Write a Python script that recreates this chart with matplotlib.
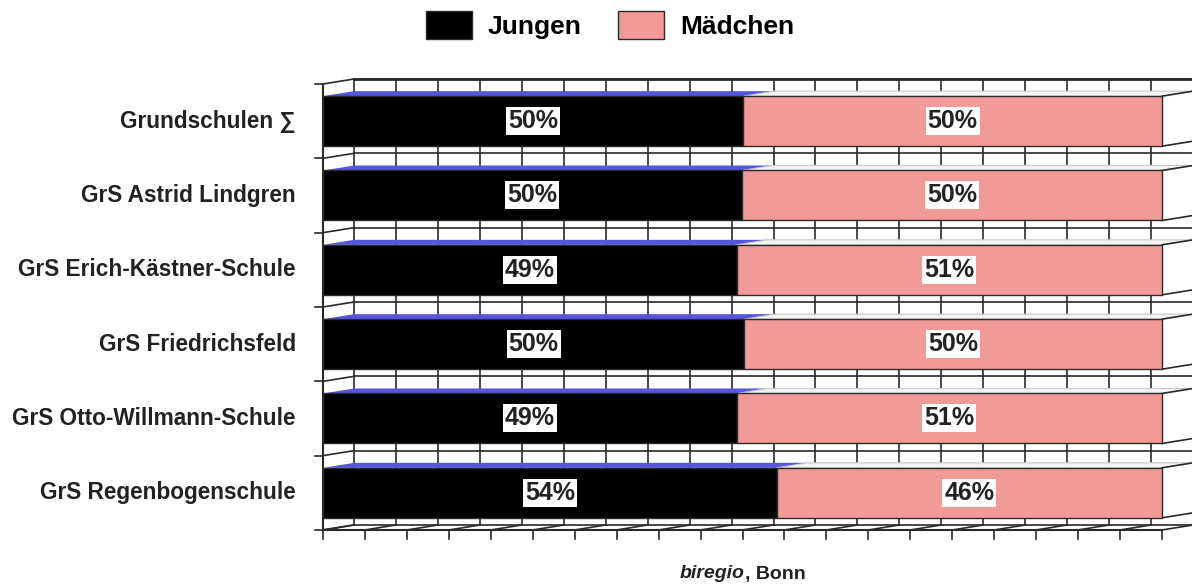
import numpy as np
import matplotlib.pyplot as plt
from matplotlib.patches import Polygon, Patch

schools = ["Grundschulen \u2211", "GrS Astrid Lindgren", "GrS Erich-K\u00e4stner-Schule",
           "GrS Friedrichsfeld", "GrS Otto-Willmann-Schule", "GrS Regenbogenschule"]
jungen = [50.1, 49.9, 49.3, 50.2, 49.3, 54.1]
maedchen = [100 - v for v in jungen]
series_names = ["Jungen", "M\u00e4dchen"]

black = "#000000"
pink = "#f19a98"
blue_top = "#5555e0"
line_col = "#2a2a2a"

# pixel scale of the reference: 8.39 px per percent, 74.33 px per category
sx, sy = 8.39, 74.33
dx, dy = 31 / sx, -5 / sy          # depth offset of the 3D look
half = 25 / sy                      # half bar height

plt.rcParams['font.family'] = ['Liberation Sans', 'DejaVu Sans']
fig = plt.figure(figsize=(11.92, 5.87), dpi=100)
ax = fig.add_axes([0, 0, 1, 1])
ax.set_xlim(-323 / sx, (1192 - 323) / sx)
ax.set_ylim((587 - 84) / sy - 0.5, -84 / sy - 0.5)
ax.axis('off')

n = len(schools)
bounds = np.arange(n + 1) - 0.5
xt = np.arange(0, 101, 5)

# back wall grid
for b in bounds:
    ax.plot([dx, 100 + dx], [b + dy, b + dy], color=line_col, lw=1.2, zorder=1)
ax.plot([dx, 100 + dx], [bounds[0] + dy] * 2, color=line_col, lw=2, zorder=1)
for x in xt:
    ax.plot([x + dx, x + dx], [bounds[0] + dy, bounds[-1] + dy], color=line_col, lw=1.2, zorder=1)

# left wall and front axis
for b in bounds:
    ax.plot([0, dx], [b, b + dy], color=line_col, lw=1.2, zorder=1)
    ax.plot([-1, 0], [b, b], color=line_col, lw=1.2, zorder=1)
ax.plot([0, 0], [bounds[0], bounds[-1]], color=line_col, lw=1.5, zorder=1)

# floor
ax.plot([0, 100], [bounds[-1]] * 2, color=line_col, lw=1.5, zorder=1)
for x in xt:
    ax.plot([x, x + dx], [bounds[-1], bounds[-1] + dy], color=line_col, lw=1.2, zorder=1)
    ax.plot([x, x], [bounds[-1], bounds[-1] + 9 / sy], color=line_col, lw=1.2, zorder=1)

# bars
ys = np.arange(n)
for i in range(n):
    j = jungen[i]
    top = i - half
    # top faces
    ax.add_patch(Polygon([[0, top], [j, top], [j + dx, top + dy], [dx, top + dy]],
                         closed=True, facecolor=blue_top, edgecolor='none', zorder=3))
    ax.add_patch(Polygon([[j, top], [100, top], [100 + dx, top + dy], [j + dx, top + dy]],
                         closed=True, facecolor='#f4f4f4', edgecolor='#c8c8c8', lw=0.8, zorder=3))
    # right side face
    ax.add_patch(Polygon([[100, top], [100 + dx, top + dy], [100 + dx, i + half + dy], [100, i + half]],
                         closed=True, facecolor='white', edgecolor=line_col, lw=1.2, zorder=3))

ax.barh(ys, jungen, height=2 * half, color=black, edgecolor=line_col, lw=1, zorder=4)
ax.barh(ys, maedchen, left=jungen, height=2 * half, color=pink, edgecolor=line_col, lw=1, zorder=4)

for i in range(n):
    box = dict(facecolor='white', edgecolor='none', pad=1.5)
    ax.text(jungen[i] / 2, i, f"{round(jungen[i])}%", ha='center', va='center',
            fontsize=18, fontweight='bold', color='#222222', bbox=box, zorder=6)
    ax.text(jungen[i] + maedchen[i] / 2, i, f"{round(maedchen[i])}%", ha='center', va='center',
            fontsize=18, fontweight='bold', color='#222222', bbox=box, zorder=6)
    ax.text(-27 / sx, i, schools[i], ha='right', va='center', fontsize=16.3,
            fontweight='bold', color='#222222')

handles = [Patch(facecolor=black, edgecolor=line_col), Patch(facecolor=pink, edgecolor=line_col)]
fig.legend(handles, series_names, loc='center', bbox_to_anchor=(610 / 1192, 1 - 25 / 587),
           ncol=2, frameon=False, prop={'weight': 'bold', 'size': 19},
           handlelength=1.74, handleheight=1.29, handletextpad=0.6, columnspacing=1.4)

fig.text(745 / 1192, 1 - 574 / 587, "biregio", ha='right', va='center', fontsize=14,
         fontweight='bold', style='italic', color='#222222')
fig.text(745 / 1192, 1 - 574 / 587, ", Bonn", ha='left', va='center', fontsize=14,
         fontweight='bold', color='#222222')

fig.savefig("out.png", dpi=100)
